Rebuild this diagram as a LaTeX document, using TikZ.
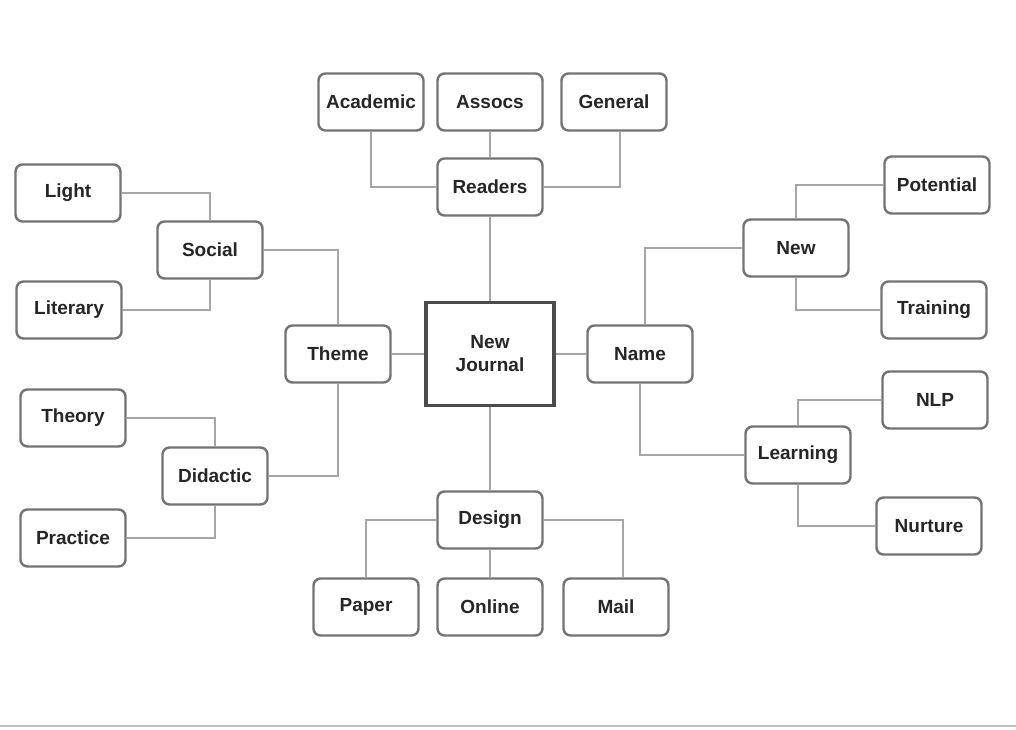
\documentclass[tikz,border=0pt]{standalone}
\usepackage{fontspec}
\setmainfont{Liberation Sans}

\begin{document}
\begin{tikzpicture}[
            x=1pt, y=-1pt,
            every node/.style={
              draw=black!55,
              line width=2.4pt,
              rounded corners=7pt,
              fill=white,
              minimum width=105pt,
              minimum height=57pt,
              inner sep=0pt,
              text=black!85,
              font=\fontsize{19}{23}\selectfont\bfseries,
            },
            hub/.style={
              draw=black!70,
              line width=3.5pt,
              sharp corners,
              minimum width=128pt,
              minimum height=103pt,
              align=center,
            },
            link/.style={draw=black!35, line width=2pt},
          ]
          \useasboundingbox (0,0) rectangle (1016,729);
          \coordinate (ruleL) at (0,726) ;
          \coordinate (ruleR) at (1016,726) ;
          \draw[draw=black!25, line width=2pt] (ruleL)--(ruleR) ;
          % centre
          \node[hub] at (490,354) (journal) {New\\Journal} ;
          % readers
          \node at (490,187) (readers) {Readers} ;
          \node at (371,102) (academic) {Academic} ;
          \node at (490,102) (assocs) {Assocs} ;
          \node at (614,102) (general) {General} ;
          % theme
          \node at (338,354) (theme) {Theme} ;
          \node at (210,250) (social) {Social} ;
          \node at (68,193) (light) {Light} ;
          \node at (69,310) (literary) {Literary} ;
          \node at (215,476) (didactic) {Didactic} ;
          \node at (73,418) (theory) {Theory} ;
          \node at (73,538) (practice) {Practice} ;
          % name
          \node at (640,354) (name) {Name} ;
          \node at (796,248) (new) {New} ;
          \node at (937,185) (potential) {Potential} ;
          \node at (934,310) (training) {Training} ;
          \node at (798,455) (learning) {Learning} ;
          \node at (935,400) (nlp) {NLP} ;
          \node at (929,526) (nurture) {Nurture} ;
          % design
          \node at (490,520) (design) {Design} ;
          \node at (366,607) (paper) {Paper} ;
          \node at (490,607) (online) {Online} ;
          \node at (616,607) (mail) {Mail} ;
          % links
          \draw[link] (readers)--(journal) ;
          \draw[link] (academic) |- (readers) ;
          \draw[link] (assocs)--(readers) ;
          \draw[link] ([xshift=6pt]general.south) |- (readers) ;
          \draw[link] (theme)--(journal) ;
          \draw[link] (social) -| (theme) ;
          \draw[link] (didactic) -| (theme) ;
          \draw[link] (light) -| (social) ;
          \draw[link] (literary) -| (social) ;
          \draw[link] (theory) -| (didactic) ;
          \draw[link] (practice) -| (didactic) ;
          \draw[link] (name)--(journal) ;
          \draw[link] ([xshift=5pt]name.north) |- (new) ;
          \draw[link] (name) |- (learning) ;
          \draw[link] (new) |- (potential) ;
          \draw[link] (new) |- (training) ;
          \draw[link] (learning) |- (nlp) ;
          \draw[link] (learning) |- (nurture) ;
          \draw[link] (journal)--(design) ;
          \draw[link] (design) -| (paper) ;
          \draw[link] (design)--(online) ;
          \draw[link] (design) -| ([xshift=7pt]mail.north) ;
          \end{tikzpicture}
\end{document}
